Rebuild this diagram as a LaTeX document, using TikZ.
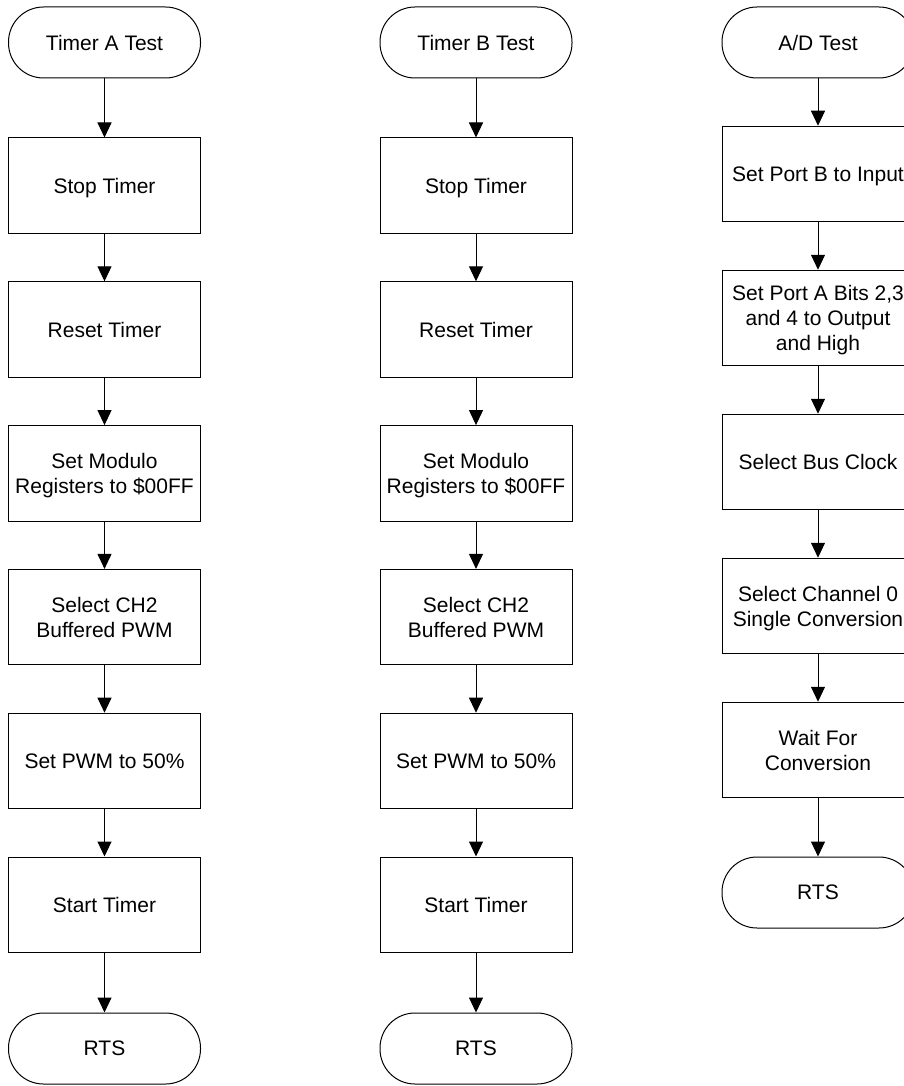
\documentclass[tikz,border=0pt]{standalone}
\usepackage{fontspec}
\setmainfont{Liberation Sans}
\usetikzlibrary{arrows.meta}

\tikzset{
  every node/.style={font=\fontsize{21}{25}\selectfont, text depth=0pt},
  procbox/.style={draw, line width=1pt, minimum width=192pt, minimum height=95.5pt,
                  align=center, inner sep=0pt},
  termbox/.style={draw, line width=1pt, rounded corners=35pt, minimum width=192pt,
                  minimum height=71pt, align=center, inner sep=0pt},
  flow/.style={line width=1pt, -{Triangle[length=15pt,width=14pt]}}
}

\begin{document}
\begin{tikzpicture}[x=1pt, y=-1pt]
  \useasboundingbox (0,0) rectangle (904,1086);
  \clip (0,0) rectangle (904,1086);

  % Timer A test routine
  \node[termbox] (a0) at (104.5,42.5)   {Timer A Test};
  \node[procbox] (a1) at (104.5,185.75) {Stop Timer};
  \node[procbox] (a2) at (104.5,329.55) {Reset Timer};
  \node[procbox] (a3) at (104.5,473.35) {Set Modulo\\Registers to \$00FF};
  \node[procbox] (a4) at (104.5,617.15) {Select CH2\\Buffered PWM};
  \node[procbox] (a5) at (104.5,760.95) {Set PWM to 50\%};
  \node[procbox] (a6) at (104.5,904.75) {Start Timer};
  \node[termbox] (a7) at (104.5,1048.5) {RTS};

  % Timer B test routine
  \node[termbox] (b0) at (476,42.5)   {Timer B Test};
  \node[procbox] (b1) at (476,185.75) {Stop Timer};
  \node[procbox] (b2) at (476,329.55) {Reset Timer};
  \node[procbox] (b3) at (476,473.35) {Set Modulo\\Registers to \$00FF};
  \node[procbox] (b4) at (476,617.15) {Select CH2\\Buffered PWM};
  \node[procbox] (b5) at (476,760.95) {Set PWM to 50\%};
  \node[procbox] (b6) at (476,904.75) {Start Timer};
  \node[termbox] (b7) at (476,1048.5) {RTS};

  % A/D test routine
  \node[termbox] (c0) at (818,42.5) {A/D Test};
  \node[procbox] (c1) at (818,174)  {Set Port B to Input};
  \node[procbox] (c2) at (818,318)  {Set Port A Bits 2,3\\and 4 to Output\\and High};
  \node[procbox] (c3) at (818,462)  {Select Bus Clock};
  \node[procbox] (c4) at (818,606)  {Select Channel 0\\Single Conversion};
  \node[procbox] (c5) at (818,750)  {Wait For\\Conversion};
  \node[termbox] (c6) at (818,892.5) {RTS};

  % Flow connectors
  \foreach \p/\q in {a0/a1,a1/a2,a2/a3,a3/a4,a4/a5,a5/a6,a6/a7,
                     b0/b1,b1/b2,b2/b3,b3/b4,b4/b5,b5/b6,b6/b7,
                     c0/c1,c1/c2,c2/c3,c3/c4,c4/c5,c5/c6}
    \draw[flow] (\p.south) -- (\q.north);
\end{tikzpicture}
\end{document}
